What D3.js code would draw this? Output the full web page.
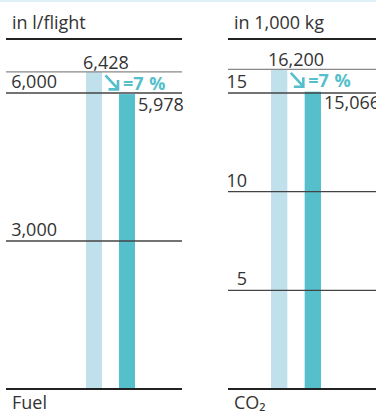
<!DOCTYPE html>
<html>
<head>
<meta charset="utf-8">
<script src="https://cdn.jsdelivr.net/npm/d3@7"></script>
<style>
  body { margin: 0; background: #fff; }
  svg { display: block; font-family: "Open Sans", sans-serif; }
</style>
</head>
<body>
<svg id="chart" width="376" height="412"></svg>
<script>
// data
var categories = ["Fuel", "CO₂"];
var units = ["in l/flight", "in 1,000 kg"];
var before = [6428, 16.2];
var after = [5978, 15.066];
var beforeLabels = ["6,428", "16,200"];
var afterLabels = ["5,978", "15,066"];
var tickValues = [[3000, 6000], [5, 10, 15]];
var tickFormats = [",", "d"];
var changeLabels = ["=7 %", "=7 %"];

// layout per panel
var panels = [
  {x0: 6, x1: 182, bars: [86, 135], labelX: 57, max: 6000},
  {x0: 228, x1: 377, bars: [271, 321], labelX: 247, max: 15}
];
var plotTop = 93, plotBottom = 389;
var light = "#c0e0eb", dark = "#55bfcb", ink = "#333";
var fs = 18;

var svg = d3.select("#chart");

svg.append("rect")
  .attr("x", 0).attr("y", 0).attr("width", 376).attr("height", 2)
  .attr("fill", "#ddf1f7");

panels.forEach(function(p, i) {
  var y = d3.scaleLinear().domain([0, p.max]).range([plotBottom, plotTop]);
  var x = d3.scaleBand().domain(["before", "after"]).range(p.bars).paddingInner(0.515);
  var g = svg.append("g");

  // unit header
  g.append("text")
    .attr("x", p.x0 + 6).attr("y", 29)
    .attr("font-size", fs).attr("fill", ink)
    .text(units[i]);
  g.append("line")
    .attr("x1", p.x0).attr("x2", p.x1).attr("y1", 39).attr("y2", 39)
    .attr("stroke", "#222").attr("stroke-width", 2);

  // bars
  g.append("rect")
    .attr("x", x("before")).attr("width", x.bandwidth())
    .attr("y", y(before[i])).attr("height", plotBottom - y(before[i]))
    .attr("fill", light);
  g.append("rect")
    .attr("x", x("after")).attr("width", x.bandwidth())
    .attr("y", y(after[i])).attr("height", plotBottom - y(after[i]))
    .attr("fill", dark);

  // reference line at the first value
  g.append("line")
    .attr("x1", p.x0).attr("x2", p.x1)
    .attr("y1", y(before[i])).attr("y2", y(before[i]))
    .attr("stroke", "#888").attr("stroke-width", 1.3);

  // gridlines + tick labels
  var fmt = d3.format(tickFormats[i]);
  tickValues[i].forEach(function(t) {
    g.append("line")
      .attr("x1", p.x0).attr("x2", p.x1).attr("y1", y(t)).attr("y2", y(t))
      .attr("stroke", "#444").attr("stroke-width", 1.3);
    g.append("text")
      .attr("x", p.labelX).attr("y", y(t) - 5)
      .attr("text-anchor", "end")
      .attr("font-size", fs).attr("fill", ink)
      .text(fmt(t));
  });

  // value labels
  g.append("text")
    .attr("x", x("before") - 3).attr("y", y(before[i]) - 3)
    .attr("font-size", fs).attr("fill", ink)
    .text(beforeLabels[i]);
  g.append("text")
    .attr("x", x("after") + x.bandwidth() + 3).attr("y", y(after[i]) + 17)
    .attr("font-size", fs).attr("fill", ink)
    .text(afterLabels[i]);

  // change arrow
  var ax = x("before") + x.bandwidth() + 2, ay = y(before[i]) + 2;
  g.append("path")
    .attr("d", "M" + (ax + 1.5) + "," + (ay + 1.5) + "L" + (ax + 13) + "," + (ay + 14) +
      "M" + (ax + 14) + "," + (ay + 6) + "L" + (ax + 14) + "," + (ay + 15.5) + "L" + (ax + 4.5) + "," + (ay + 15.5))
    .attr("fill", "none").attr("stroke", dark).attr("stroke-width", 2.6);
  g.append("text")
    .attr("x", ax + 19).attr("y", ay + 16)
    .attr("font-size", fs).attr("font-weight", "bold").attr("fill", dark)
    .attr("word-spacing", 1)
    .text(changeLabels[i]);

  // baseline + category
  g.append("line")
    .attr("x1", p.x0).attr("x2", p.x1).attr("y1", plotBottom).attr("y2", plotBottom)
    .attr("stroke", "#222").attr("stroke-width", 2);
  g.append("text")
    .attr("x", p.x0 + 6).attr("y", 409)
    .attr("font-size", fs).attr("fill", ink)
    .text(categories[i]);
});
</script>
</body>
</html>
